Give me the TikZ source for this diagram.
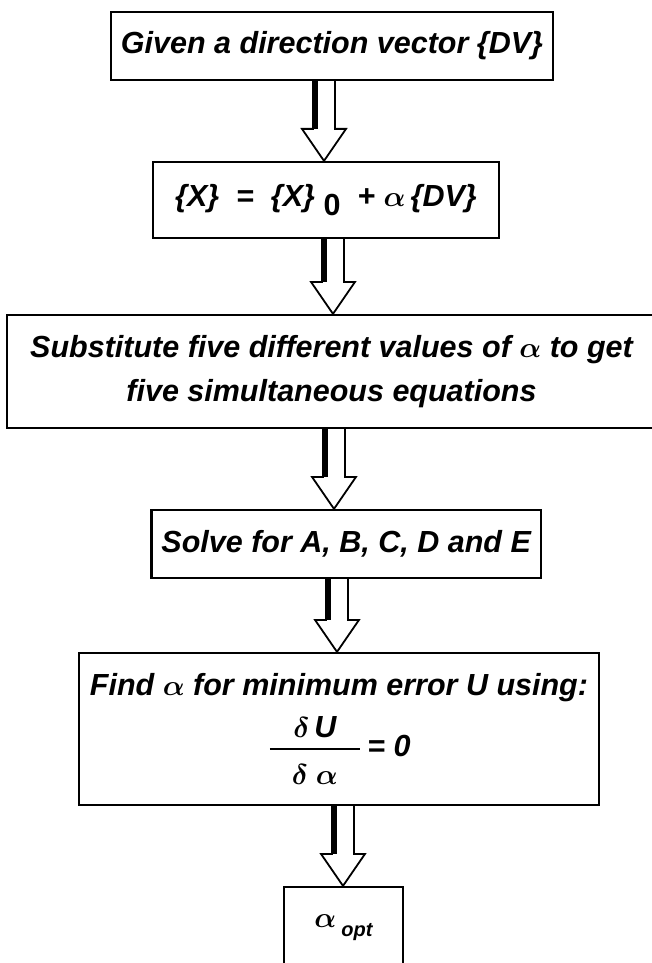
\documentclass[tikz,border=0pt]{standalone}
\usepackage{amsmath}
\usepackage{fontspec}
\setmainfont{Liberation Sans}
\usepackage{tikz}
\usetikzlibrary{calc, positioning}

\newcommand{\chartfont}{\fontsize{15.25}{19}\selectfont\bfseries\itshape}
\tikzset{
  stepbox/.style={draw, line width=1.1pt, inner xsep=5pt, inner ysep=0pt, align=center, font=\chartfont},
  arrowbody/.style={draw, line width=0.9pt, fill=white, line join=miter},
  arrowshade/.style={line width=2.5pt},
}
% hollow block arrow from #1 down to its tip #2
\newcommand{\hollowarrow}[2]{%
  \coordinate (ha-s) at (#1);
  \coordinate (ha-t) at (#2);
  \draw[arrowbody] ($(ha-s)+(-11,0)$) -- ($(ha-t)+(-11,-32)$) -- ($(ha-t)+(-22,-32)$) -- (ha-t)
    -- ($(ha-t)+(22,-32)$) -- ($(ha-t)+(11,-32)$) -- ($(ha-s)+(11,0)$);
  \draw[arrowshade] ($(ha-s)+(-9,0)$) -- ($(ha-t)+(-9,-32)$);}

\begin{document}
\begin{tikzpicture}[x=0.5pt, y=-0.5pt]
    \clip (0,0) rectangle (652,963);
    \coordinate (axis1) at (324,0);
    \coordinate (axis2) at (333,0);
    \coordinate (axis3) at (334,0);
    \coordinate (axis4) at (337,0);
    \coordinate (axis5) at (343,0);

    % Steps
    \node[stepbox, minimum height=34pt] (given) at (332,46) {Given a direction vector \{DV\}};
    \node[stepbox, minimum height=38pt, inner xsep=11pt] (update) at (326,200)
        {\{X\} \;=\; \{X\}\raisebox{-4.5pt}{\;\upshape 0} \;+ $\boldsymbol{\alpha}$\,\{DV\}};
    \node[stepbox, minimum width=324.5pt, minimum height=56.5pt] (subst) at (331.5,371.5)
        {Substitute five different values of $\boldsymbol{\alpha}$ to get\\[3pt] five simultaneous equations};
    \node[stepbox, minimum height=34pt, anchor=east] (solve) at (542,544) {Solve for A, B, C, D and E};
    \node[stepbox, minimum width=260pt, minimum height=76pt] (find) at (339,729)
        {Find $\boldsymbol{\alpha}$ for minimum error U using:\\[6pt]
         $\genfrac{}{}{1pt}{0}{\makebox[45pt]{$\boldsymbol{\delta}\,\text{U}$}\rule[-2pt]{0pt}{0pt}}
           {\rule{0pt}{14pt}\makebox[45pt]{$\boldsymbol{\delta}\;\boldsymbol{\alpha}$}}\text{\,= 0}$};
    \node[stepbox, minimum width=59.5pt, minimum height=41pt] (opt) at (343.5,928)
        {$\boldsymbol{\alpha}$\,\raisebox{-4.5pt}{\fontsize{10}{10}\selectfont opt}};

    % Arrows
    \hollowarrow{given.south -| axis1}{update.north -| axis1}
    \hollowarrow{update.south -| axis2}{subst.north -| axis2}
    \hollowarrow{subst.south -| axis3}{solve.north -| axis3}
    \hollowarrow{solve.south -| axis4}{find.north -| axis4}
    \hollowarrow{find.south -| axis5}{opt.north -| axis5}
\end{tikzpicture}
\end{document}
